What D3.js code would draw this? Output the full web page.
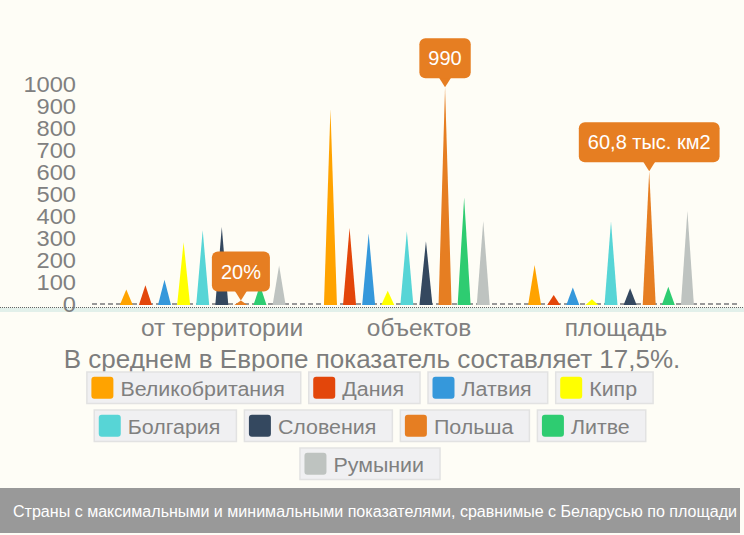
<!DOCTYPE html>
<html>
<head>
<meta charset="utf-8">
<script src="https://cdn.jsdelivr.net/npm/d3@7"></script>
<style>
  html, body { margin: 0; padding: 0; background: #FEFDF6; }
  svg { display: block; font-family: "Liberation Sans", Arial, Helvetica, sans-serif; }
</style>
</head>
<body>
<svg id="chart" width="744" height="535"></svg>
<script>
// ---- data ----
const categories = ["от территории", "объектов", "площадь"];
const seriesNames = ["Великобритания", "Дания", "Латвия", "Кипр", "Болгария", "Словения", "Польша", "Литве", "Румынии"];
const seriesColors = ["#FFA300", "#E3460A", "#3598DB", "#FFFF00", "#57D5D6", "#34485F", "#E67E22", "#2ECC71", "#BEC3C0"];
const valuesTerritory = [70, 90, 115, 285, 340, 355, 20, 90, 180];
const valuesObjects = [890, 350, 325, 65, 335, 290, 990, 488, 382];
const valuesArea = [182, 45, 79, 26, 379, 76, 608, 83, 427];
const calloutSeries = "Польша";
const calloutLabels = ["20%", "990", "60,8 тыс. км2"];
const yTicks = [0, 100, 200, 300, 400, 500, 600, 700, 800, 900, 1000];
const subtitle = "В среднем в Европе показатель составляет 17,5%.";
const footer = "Страны с максимальными и минимальными показателями, сравнимые с Беларусью по площади";

const seriesValues = [valuesTerritory, valuesObjects, valuesArea];

// ---- layout ----
const svg = d3.select("#chart");
const W = 744;

const x0 = d3.scaleBand().domain(categories).range([116.75, 696.95]).paddingInner(0.158).paddingOuter(0);
const x1 = d3.scaleBand().domain(seriesNames).range([0, x0.bandwidth()]);
const y = d3.scaleLinear().domain([0, 1000]).range([305, 85]);
const color = d3.scaleOrdinal().domain(seriesNames).range(seriesColors);
const labelX = d3.scalePoint().domain(categories).range([222, 616]);

function stretch(sel, k) {
  sel.each(function () {
    const n = this;
    const len = n.getComputedTextLength();
    d3.select(n).attr("textLength", len * k).attr("lengthAdjust", "spacingAndGlyphs");
  });
}

// baseline band + dotted axis
svg.append("rect").attr("x", 0).attr("y", 307.5).attr("width", W).attr("height", 4.5).attr("fill", "#E2F0EA");
svg.append("line").attr("x1", 0).attr("x2", W).attr("y1", 307.5).attr("y2", 307.5)
  .attr("stroke", "#666").attr("stroke-width", 1).attr("stroke-dasharray", "1,1");

// dashed zero line
svg.append("line").attr("x1", 92).attr("x2", 740).attr("y1", y(0) - 1).attr("y2", y(0) - 1)
  .attr("stroke", "#999").attr("stroke-width", 2).attr("stroke-dasharray", "5,3");

// y axis
const yAxis = d3.axisLeft(y).tickValues(yTicks).tickFormat(d3.format("d")).tickSize(0).tickPadding(0);
const gy = svg.append("g").attr("transform", "translate(76,0)").call(yAxis);
gy.select(".domain").remove();
gy.selectAll("text").attr("fill", "#808080").style("font-size", "21.5px")
  .style("font-family", "\"Liberation Sans\", Arial, sans-serif");
stretch(gy.selectAll("text"), 1.1);

// bars (spikes)
const rows = [];
categories.forEach((c, ci) => {
  seriesNames.forEach((s, si) => {
    rows.push({ cat: c, ci, series: s, value: seriesValues[ci][si] });
  });
});
const baseW = 13;
const groups = svg.append("g").selectAll("g").data(categories).join("g")
  .attr("transform", d => `translate(${x0(d)},0)`);
groups.selectAll("path").data(c => rows.filter(r => r.cat === c)).join("path")
  .attr("fill", d => color(d.series))
  .attr("d", d => {
    const cx = x1(d.series) + x1.bandwidth() / 2;
    const b = y(0), t = y(d.value);
    return `M${cx - baseW / 2},${b} L${cx},${t} L${cx + baseW / 2},${b} Z`;
  });

// category labels
svg.append("g").selectAll("text").data(categories).join("text")
  .attr("x", d => labelX(d)).attr("y", 336).attr("text-anchor", "middle")
  .attr("fill", "#808080").style("font-size", "24.5px").text(d => d);

// subtitle
svg.append("text").attr("x", 372).attr("y", 368).attr("text-anchor", "middle")
  .attr("fill", "#7d7d7d").style("font-size", "26px").text(subtitle);

// callouts
const calloutData = categories.map((c, ci) => {
  const si = seriesNames.indexOf(calloutSeries);
  return { cat: c, label: calloutLabels[ci], value: seriesValues[ci][si] };
});
const cg = svg.append("g").selectAll("g").data(calloutData).join("g")
  .attr("transform", d => `translate(${x0(d.cat) + x1(calloutSeries) + x1.bandwidth() / 2},${y(d.value)})`);
cg.each(function (d) {
  const g = d3.select(this);
  const txt = g.append("text").attr("fill", "#fff").style("font-size", "20px")
    .attr("text-anchor", "middle").attr("x", 0).attr("y", -9 - 20 + 7).text(d.label);
  const tw = txt.node().getComputedTextLength();
  const w = tw + 18, h = 40, ph = 9, pw = 12;
  g.insert("path", "text").attr("fill", "#E67E22")
    .attr("d", `M${-pw / 2},${-ph - 0.5} L0,0 L${pw / 2},${-ph - 0.5} Z`);
  g.insert("rect", "text").attr("x", -w / 2).attr("y", -ph - h).attr("width", w).attr("height", h)
    .attr("rx", 6).attr("fill", "#E67E22");
});

// legend
const legend = svg.append("g");
const itemH = 31.5, sw = 22, padL = 4.5, gapT = 7, padR = 16, gapX = 8, rowStep = 38, maxRow = 600;
const items = seriesNames.map(s => {
  const g = legend.append("g");
  g.append("rect").attr("class", "box").attr("height", itemH).attr("fill", "#F0F0F2")
    .attr("stroke", "#E2E2E2").attr("stroke-width", 1.5);
  g.append("rect").attr("x", padL).attr("y", (itemH - sw) / 2).attr("width", sw).attr("height", sw)
    .attr("rx", 3).attr("fill", color(s));
  const t = g.append("text").attr("x", padL + sw + gapT).attr("y", 24)
    .attr("fill", "#808080").style("font-size", "20px").text(s);
  const natural = t.node().getComputedTextLength();
  const tl = natural * 1.07;
  t.attr("textLength", tl).attr("lengthAdjust", "spacingAndGlyphs");
  const w = padL + sw + gapT + tl + padR;
  g.select(".box").attr("width", w);
  return { g, w };
});
const legendRows = [];
let cur = [], curW = 0;
items.forEach(it => {
  const add = cur.length ? gapX + it.w : it.w;
  if (cur.length && curW + add > maxRow) { legendRows.push({ items: cur, w: curW }); cur = [it]; curW = it.w; }
  else { cur.push(it); curW += add; }
});
if (cur.length) legendRows.push({ items: cur, w: curW });
legendRows.forEach((r, ri) => {
  let xx = 370 - r.w / 2;
  r.items.forEach(it => {
    it.g.attr("transform", `translate(${xx},${372 + ri * rowStep})`);
    xx += it.w + gapX;
  });
});

// footer band
svg.append("rect").attr("x", 0).attr("y", 488).attr("width", 740).attr("height", 45).attr("fill", "#999999");
svg.append("text").attr("x", 13).attr("y", 517).attr("fill", "#fff").style("font-size", "16px")
  .attr("textLength", 724).attr("lengthAdjust", "spacingAndGlyphs").text(footer);
</script>
</body>
</html>
